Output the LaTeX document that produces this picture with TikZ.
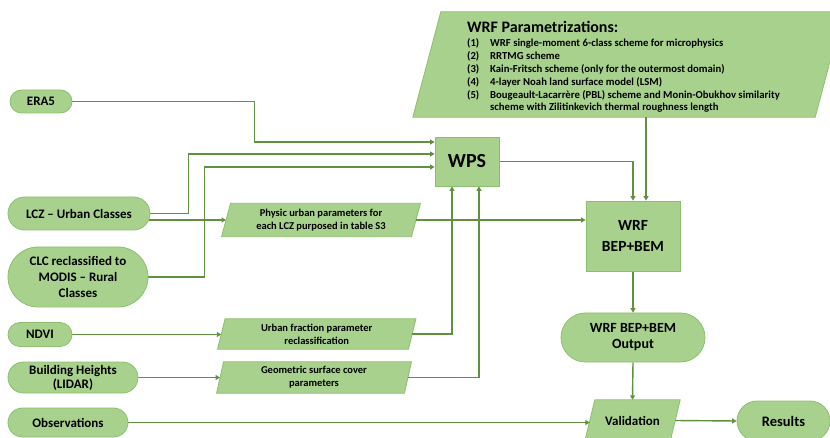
\documentclass[tikz,border=0pt]{standalone}
\usepackage{fontspec}
\setmainfont{Carlito}
\usetikzlibrary{shapes.misc,arrows.meta,calc,backgrounds}
\definecolor{gfill}{HTML}{A9D18E}
\definecolor{gedge}{HTML}{8DBE6E}
\definecolor{gline}{HTML}{5F9140}
\tikzset{
  pill/.style={rounded rectangle, fill=gfill, draw=gedge, line width=0.8pt, inner sep=0pt, align=center, font=\bfseries\fontsize{13}{15}\selectfont},
  boxnode/.style={rectangle, fill=gfill, draw=gedge, line width=0.8pt, inner sep=0pt, align=center},
  paranode/.style={rectangle, inner sep=0pt, align=center, font=\bfseries\fontsize{10.5}{13}\selectfont},
  parashape/.style={fill=gfill, draw=gedge, line width=0.8pt},
  conn/.style={draw=gline, line width=1.4pt, -{Triangle[width=5pt,length=4.5pt]}},
}
\newcommand\drawpara[2]{%
  \path[parashape] ($(#1.south west)+(-#2/2,0)$) -- ($(#1.north west)+(#2/2,0)$) -- ($(#1.north east)+(#2/2,0)$) -- ($(#1.south east)+(-#2/2,0)$) -- cycle;}
\begin{document}
\begin{tikzpicture}[x=1pt,y=-1pt]
\useasboundingbox (0,0) rectangle (830,438);
\clip (0,0) rectangle (830,438);
% pills
\node[pill, minimum width=62pt, minimum height=23pt] (era5) at (41,101.5) {ERA5};
\node[pill, minimum width=142pt, minimum height=33pt] (lcz) at (79,213.5) {LCZ -- Urban Classes};
\node[pill, minimum width=140pt, minimum height=60pt, font=\bfseries\fontsize{13}{16}\selectfont] (clc) at (78,277) {CLC reclassified to\\MODIS -- Rural\\Classes};
\node[pill, minimum width=64pt, minimum height=24pt] (ndvi) at (40,334.5) {NDVI};
\node[pill, minimum width=130pt, minimum height=31pt, font=\bfseries\fontsize{13}{14}\selectfont] (bh) at (73,377.5) {Building Heights\\(LIDAR)};
\node[pill, minimum width=120pt, minimum height=29pt] (obs) at (68,422.5) {Observations};
\node[pill, minimum width=93pt, minimum height=40pt, font=\bfseries\fontsize{14.5}{16}\selectfont] (res) at (783.5,421) {Results};
\node[pill, minimum width=144pt, minimum height=49pt, font=\bfseries\fontsize{14}{16}\selectfont] (out) at (633,337.5) {WRF BEP+BEM\\Output};
% boxes
\node[boxnode, minimum width=64pt, minimum height=49pt, font=\bfseries\fontsize{20}{22}\selectfont] (wps) at (467,161.5) {WPS};
\node[boxnode, minimum width=94pt, minimum height=70pt, font=\bfseries\fontsize{15.5}{21}\selectfont] (wrf) at (633,236) {WRF\\BEP+BEM};
% parallelogram text nodes
\node[paranode, minimum width=402pt, minimum height=105pt] (param) at (628,64.5) {};
\node[paranode, minimum width=189.5pt, minimum height=33pt] (phys) at (321,220) {Physic urban parameters for\\each LCZ purposed in table S3};
\node[paranode, minimum width=190.5pt, minimum height=30pt] (urb) at (316.75,334) {Urban fraction parameter\\reclassification};
\node[paranode, minimum width=187.5pt, minimum height=31pt] (geo) at (314,377.5) {Geometric surface cover\\parameters};
\node[paranode, minimum width=85pt, minimum height=41pt, font=\bfseries\fontsize{13}{15}\selectfont] (val) at (632.5,420.5) {Validation};
% parametrization texts
\node[anchor=base west, inner sep=0pt, font=\bfseries\fontsize{16}{18}\selectfont] (ptitle) at (467,32.5) {WRF Parametrizations:};
\node[anchor=base west, inner sep=0pt, font=\bfseries\fontsize{10.7}{12.8}\selectfont] (plist) at (467,47) {%
\begin{tabular}[t]{@{}p{23pt}@{}l@{}}
(1) & WRF single-moment 6-class scheme for microphysics\\
(2) & RRTMG scheme\\
(3) & Kain-Fritsch scheme (only for the outermost domain)\\
(4) & 4-layer Noah land surface model (LSM)\\
(5) & Bougeault-Lacarrère (PBL) scheme and Monin-Obukhov similarity\\
    & scheme with Zilitinkevich thermal roughness length
\end{tabular}};
\begin{scope}[on background layer]
\drawpara{param}{28}
\drawpara{phys}{9}
\drawpara{urb}{7.5}
\drawpara{geo}{7}
\drawpara{val}{10}
% connectors
\draw[conn] (era5.east) -- ++(182,0) |- ($(wps.west)+(0,-19.5)$);
\draw[conn] (lcz.east) -- ++(38,0) |- ($(wps.west)+(0,-7.5)$);
\draw[conn] ($(lcz.east)+(-1,6.5)$) -- (phys.west);
\draw[conn] (clc.east) -- ++(56,0) |- ($(wps.west)+(0,5.5)$);
\draw[conn] (ndvi.east) -- (ndvi.east -| urb.west);
\draw[conn] (bh.east) -- (bh.east -| geo.west);
\draw[conn] (urb.east) -| ($(wps.south)+(-15,0)$);
\draw[conn] (geo.east) -| ($(wps.south)+(12,0)$);
\draw[conn] (phys.east) -- (phys.east -| wrf.west);
\draw[conn] (wps.east) -| (wrf.north);
\coordinate (wrfin) at ($(wrf.north)+(13,0)$);
\draw[conn] (param.south -| wrfin) -- (wrfin);
\draw[conn] (wrf.south) -- (out.north);
\draw[conn] (out.south) -- (val.north);
\draw[conn] (obs.east) -- (obs.east -| val.west);
\draw[conn] (val.east) -- (res.west);
\end{scope}
\end{tikzpicture}
\end{document}
